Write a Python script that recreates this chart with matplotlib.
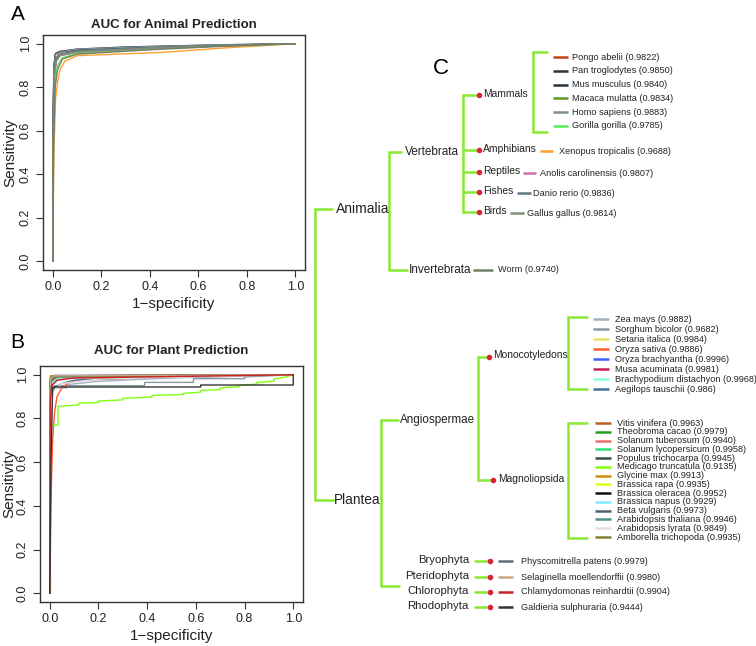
import numpy as np
import matplotlib
matplotlib.use("Agg")
import matplotlib.pyplot as plt

plt.rcParams['font.family'] = ['Liberation Sans', 'DejaVu Sans']

# ---------------- data ----------------
animal_species = ['Pongo abelii', 'Pan troglodytes', 'Mus musculus', 'Macaca mulatta',
                  'Homo sapiens', 'Gorilla gorilla', 'Xenopus tropicalis',
                  'Anolis carolinensis', 'Danio rerio', 'Gallus gallus', 'Worm']
animal_auc = ['0.9822', '0.9850', '0.9840', '0.9834', '0.9883', '0.9785',
              '0.9688', '0.9807', '0.9836', '0.9814', '0.9740']
animal_colors = ['#c4401c', '#333333', '#26343e', '#5c9a22', '#7a8e98', '#55f055',
                 '#ffa030', '#d070b0', '#607880', '#7f8f76', '#708060']
animal_fpr = [
    [0, 0.002, 0.006, 0.012, 0.025, 0.08, 0.3, 0.6, 1],
    [0, 0.002, 0.005, 0.012, 0.03, 0.1, 0.3, 0.7, 1],
    [0, 0.002, 0.005, 0.010, 0.025, 0.1, 0.35, 0.7, 1],
    [0, 0.003, 0.008, 0.015, 0.03, 0.1, 0.4, 0.7, 1],
    [0, 0.002, 0.006, 0.012, 0.03, 0.1, 0.35, 0.7, 1],
    [0, 0.004, 0.010, 0.020, 0.04, 0.1, 0.4, 0.7, 1],
    [0, 0.005, 0.012, 0.020, 0.03, 0.05, 0.1, 0.45, 0.7, 1],
    [0, 0.003, 0.008, 0.015, 0.03, 0.1, 0.4, 0.7, 1],
    [0, 0.002, 0.006, 0.012, 0.03, 0.1, 0.4, 0.7, 1],
    [0, 0.003, 0.007, 0.014, 0.03, 0.1, 0.4, 0.7, 1],
    [0, 0.004, 0.010, 0.020, 0.04, 0.1, 0.4, 0.7, 1],
]
animal_tpr = [
    [0, 0.60, 0.88, 0.93, 0.950, 0.960, 0.975, 0.990, 1],
    [0, 0.70, 0.90, 0.955, 0.965, 0.975, 0.985, 0.995, 1],
    [0, 0.65, 0.88, 0.95, 0.960, 0.972, 0.983, 0.993, 1],
    [0, 0.60, 0.85, 0.92, 0.945, 0.960, 0.978, 0.990, 1],
    [0, 0.70, 0.90, 0.95, 0.962, 0.975, 0.985, 0.995, 1],
    [0, 0.60, 0.82, 0.90, 0.935, 0.955, 0.975, 0.990, 1],
    [0, 0.50, 0.75, 0.82, 0.88, 0.92, 0.945, 0.960, 0.980, 1],
    [0, 0.60, 0.85, 0.92, 0.945, 0.962, 0.978, 0.990, 1],
    [0, 0.65, 0.88, 0.93, 0.952, 0.968, 0.982, 0.993, 1],
    [0, 0.60, 0.86, 0.92, 0.948, 0.963, 0.980, 0.990, 1],
    [0, 0.55, 0.80, 0.88, 0.930, 0.952, 0.972, 0.988, 1],
]

mono_species = ['Zea mays', 'Sorghum bicolor', 'Setaria italica', 'Oryza sativa',
                'Oryza brachyantha', 'Musa acuminata', 'Brachypodium distachyon',
                'Aegilops tauschii']
mono_auc = ['0.9882', '0.9682', '0.9984', '0.9886', '0.9996', '0.9981', '0.9968', '0.986']
mono_colors = ['#a2b2ba', '#8a9aa2', '#f0e060', '#ff5a30', '#3a62ff', '#c42060',
               '#88ffd8', '#4272a2']
magno_species = ['Vitis vinifera', 'Theobroma cacao', 'Solanum tuberosum',
                 'Solanum lycopersicum', 'Populus trichocarpa', 'Medicago truncatula',
                 'Glycine max', 'Brassica rapa', 'Brassica oleracea', 'Brassica napus',
                 'Beta vulgaris', 'Arabidopsis thaliana', 'Arabidopsis lyrata',
                 'Amborella trichopoda']
magno_auc = ['0.9963', '0.9979', '0.9940', '0.9958', '0.9945', '0.9135', '0.9913',
             '0.9935', '0.9952', '0.9929', '0.9973', '0.9946', '0.9849', '0.9935']
magno_colors = ['#c06020', '#22a022', '#f07070', '#30e080', '#305050', '#80ff10',
                '#d09010', '#e0ff20', '#111111', '#80e8ff', '#506070', '#509090',
                '#eadcdc', '#808030']
lower_groups = ['Bryophyta', 'Pteridophyta', 'Chlorophyta', 'Rhodophyta']
lower_species = ['Physcomitrella patens', 'Selaginella moellendorffii',
                 'Chlamydomonas reinhardtii', 'Galdieria sulphuraria']
lower_auc = ['0.9979', '0.9980', '0.9904', '0.9444']
lower_colors = ['#607078', '#c8a880', '#cc2222', '#333333']

plant_fpr = [
    # monocots
    [0, 0.003, 0.01, 0.07, 0.07, 0.2, 0.5, 1],
    [0, 0.003, 0.01, 0.02, 0.39, 0.39, 0.59, 0.59, 0.8, 0.8, 1],
    [0, 0.001, 0.005, 0.02, 1],
    [0, 0.005, 0.008, 0.012, 0.02, 0.03, 0.05, 0.08, 0.12, 0.23, 0.5, 1],
    [0, 0.001, 0.004, 0.02, 1],
    [0, 0.001, 0.005, 0.03, 1],
    [0, 0.002, 0.01, 0.03, 1],
    [0, 0.003, 0.01, 0.02, 0.05, 0.1, 0.2, 1],
    # magnoliopsida
    [0, 0.001, 0.006, 0.03, 1],
    [0, 0.001, 0.005, 0.02, 1],
    [0, 0.002, 0.008, 0.03, 0.08, 1],
    [0, 0.002, 0.008, 0.015, 0.03, 1],
    [0, 0.001, 0.005, 0.02, 0.05, 1],
    [0, 0.003, 0.003, 0.034, 0.034, 0.12, 0.12, 0.2, 0.2, 0.3, 0.3, 0.42, 0.42, 0.55,
     0.55, 0.62, 0.62, 0.7, 0.7, 0.78, 0.78, 0.85, 0.85, 0.92, 0.92, 0.97, 1],
    [0, 0.0005, 0.002, 1],
    [0, 0.001, 0.006, 0.03, 1],
    [0, 0.001, 0.005, 0.02, 1],
    [0, 0.002, 0.008, 0.03, 1],
    [0, 0.001, 0.005, 0.02, 1],
    [0, 0.002, 0.006, 0.03, 1],
    [0, 0.003, 0.01, 0.05, 0.2, 1],
    [0, 0.001, 0.005, 0.03, 1],
    # lower plants
    [0, 0.001, 0.004, 0.02, 1],
    [0, 0.001, 0.004, 0.02, 1],
    [0, 0.002, 0.008, 0.03, 0.1, 1],
    [0, 0.005, 0.012, 0.62, 0.62, 1, 1],
]
plant_tpr = [
    [0, 0.85, 0.94, 0.94, 0.955, 0.97, 0.985, 1],
    [0, 0.80, 0.92, 0.95, 0.95, 0.965, 0.965, 0.982, 0.982, 0.99, 1],
    [0, 0.90, 0.985, 0.992, 1],
    [0, 0.40, 0.55, 0.70, 0.83, 0.90, 0.94, 0.965, 0.975, 0.98, 0.99, 1],
    [0, 0.95, 0.993, 0.997, 1],
    [0, 0.93, 0.99, 0.995, 1],
    [0, 0.90, 0.975, 0.99, 1],
    [0, 0.80, 0.92, 0.94, 0.96, 0.975, 0.98, 1],
    [0, 0.90, 0.98, 0.99, 1],
    [0, 0.93, 0.985, 0.993, 1],
    [0, 0.85, 0.95, 0.975, 0.985, 1],
    [0, 0.90, 0.96, 0.98, 0.99, 1],
    [0, 0.90, 0.97, 0.985, 0.99, 1],
    [0, 0, 0.77, 0.77, 0.855, 0.862, 0.87, 0.873, 0.88, 0.885, 0.892, 0.898, 0.905,
     0.91, 0.915, 0.92, 0.928, 0.932, 0.94, 0.945, 0.952, 0.957, 0.965, 0.97, 0.98,
     0.99, 1],
    [0, 0.97, 0.995, 1],
    [0, 0.90, 0.975, 0.99, 1],
    [0, 0.93, 0.985, 0.993, 1],
    [0, 0.88, 0.96, 0.985, 1],
    [0, 0.93, 0.985, 0.993, 1],
    [0, 0.90, 0.97, 0.99, 1],
    [0, 0.80, 0.92, 0.96, 0.98, 1],
    [0, 0.90, 0.975, 0.99, 1],
    [0, 0.92, 0.985, 0.995, 1],
    [0, 0.93, 0.985, 0.995, 1],
    [0, 0.88, 0.95, 0.975, 0.985, 1],
    [0, 0.60, 0.944, 0.944, 0.953, 0.953, 1],
]
plant_colors = mono_colors + magno_colors + lower_colors

# ---------------- figure ----------------
W, H = 756, 646
fig = plt.figure(figsize=(W / 100, H / 100), dpi=100)


def px_axes(l, t, r, b):
    return fig.add_axes([l / W, 1 - b / H, (r - l) / W, (b - t) / H])


def style_roc(ax, title, title_pad, ylab_x):
    ax.set_xlim(-0.04, 1.04)
    ax.set_ylim(-0.04, 1.04)
    ticks = [0, 0.2, 0.4, 0.6, 0.8, 1.0]
    ax.set_xticks(ticks)
    ax.set_yticks(ticks)
    ax.set_xticklabels(['%.1f' % t for t in ticks])
    ax.set_yticklabels(['%.1f' % t for t in ticks], rotation=90, va='center')
    ax.tick_params(direction='out', length=5, width=0.8, color='#333333',
                   labelsize=9, labelcolor='#222222', pad=3)
    for s in ax.spines.values():
        s.set_color('#333333')
        s.set_linewidth(1.0)
    ax.set_xlabel('1\u2212specificity', fontsize=11, color='#222222', labelpad=3)
    ax.set_ylabel('Sensitivity', fontsize=11, color='#222222')
    ax.yaxis.set_label_coords(ylab_x, 0.5)
    ax.set_title(title, fontsize=9.5, fontweight='bold', color='#222222', pad=title_pad)


axA = px_axes(43, 35, 305, 270)
for fx, ty, c in zip(animal_fpr, animal_tpr, animal_colors):
    axA.plot(fx, ty, color=c, lw=1.0)
style_roc(axA, 'AUC for Animal Prediction', 5, (17 - 43) / 262)

axB = px_axes(40, 366, 303, 602)
for fx, ty, c in zip(plant_fpr, plant_tpr, plant_colors):
    axB.plot(fx, ty, color=c, lw=1.0)
style_roc(axB, 'AUC for Plant Prediction', 9, (16 - 40) / 263)

fig.text(18 / W, 1 - 14 / H, 'A', fontsize=15, ha='center', va='center')
fig.text(17 / W, 1 - 343 / H, 'B', fontsize=15, ha='center', va='center')

# ---------------- tree ----------------
t = fig.add_axes([0, 0, 1, 1], facecolor='none')
t.set_xlim(0, W)
t.set_ylim(H, 0)
t.axis('off')

G = '#88e832'
RED = '#e0203a'
TXT = '#222222'
glw = 1.8
slw = 1.8
sfs = 6.6


def bracket(x, y0, y1, x_end0, x_end1=None):
    if x_end1 is None:
        x_end1 = x_end0
    t.plot([x_end0, x, x, x_end1], [y0, y0, y1, y1], color=G, lw=glw,
           solid_joinstyle='miter', solid_capstyle='butt')


def dot(x, y):
    t.plot([x], [y], 'o', color=RED, ms=4, mec='none')


def species(x0, x1, y, color, label, xt):
    t.plot([x0, x1], [y, y], color=color, lw=slw, solid_capstyle='butt')
    t.text(xt, y, label, fontsize=sfs, va='center', ha='left', color=TXT)


t.text(441, 68, 'C', fontsize=16, ha='center', va='center')

# root
bracket(315, 209, 500, 333, 335)
t.text(336, 209, 'Animalia', fontsize=10, va='center', color=TXT)
t.text(334, 500, 'Plantea', fontsize=9.8, va='center', color=TXT)

# animals
bracket(389, 152, 270, 402, 408)
t.text(405, 152, 'Vertebrata', fontsize=8.5, va='center', color=TXT)
t.text(409, 270, 'Invertebrata', fontsize=8.5, va='center', color=TXT)
species(473, 493, 270, animal_colors[10], '%s (%s)' % (animal_species[10], animal_auc[10]), 498)

class_names = ['Mammals', 'Amphibians', 'Reptiles', 'Fishes', 'Birds']
class_y = [95, 150, 172, 192, 212]
t.plot([463, 463], [class_y[0], class_y[-1]], color=G, lw=glw)
for name, y in zip(class_names, class_y):
    t.plot([463, 478], [y, y], color=G, lw=glw, solid_capstyle='butt')
    dot(479, y)
    t.text(483, y - 1, name, fontsize=7.4, va='center', color=TXT)

bracket(533, 52, 132, 548)
for i in range(6):
    y = 57 + 13.8 * i
    species(553, 568, y, animal_colors[i], '%s (%s)' % (animal_species[i], animal_auc[i]), 572)

single_line = [(540, 553, 559), (523, 536, 540), (517, 531, 533), (510, 524, 527)]
for k, (x0, x1, xt) in enumerate(single_line):
    i = 6 + k
    species(x0, x1, class_y[k + 1] + 1, animal_colors[i],
            '%s (%s)' % (animal_species[i], animal_auc[i]), xt)

# plants
bracket(381, 420, 586, 399, 400)
t.text(400, 420, 'Angiospermae', fontsize=8.4, va='center', color=TXT)

bracket(478, 357, 480, 487, 491)
dot(489, 357)
dot(493, 480)
t.text(493, 355, 'Monocotyledons', fontsize=7.4, va='center', color=TXT)
t.text(498, 479, 'Magnoliopsida', fontsize=7.4, va='center', color=TXT)

bracket(568, 317, 389, 588)
for i, (sp, auc, c) in enumerate(zip(mono_species, mono_auc, mono_colors)):
    species(593, 609, 319 + 10 * i, c, '%s (%s)' % (sp, auc), 615)

bracket(568, 423, 538, 588)
step = (537 - 423) / (len(magno_species) - 1)
for i, (sp, auc, c) in enumerate(zip(magno_species, magno_auc, magno_colors)):
    species(595, 611, 423 + step * i, c, '%s (%s)' % (sp, auc), 617)

lower_y = [561, 577, 592, 607]
for g, sp, auc, c, y in zip(lower_groups, lower_species, lower_auc, lower_colors, lower_y):
    t.text(469, y - 1, g, fontsize=8.2, ha='right', va='center', color=TXT)
    t.plot([474, 488], [y, y], color=G, lw=glw, solid_capstyle='butt')
    dot(490, y)
    species(498, 513, y, c, '%s (%s)' % (sp, auc), 521)

fig.savefig('out.png', dpi=100)
